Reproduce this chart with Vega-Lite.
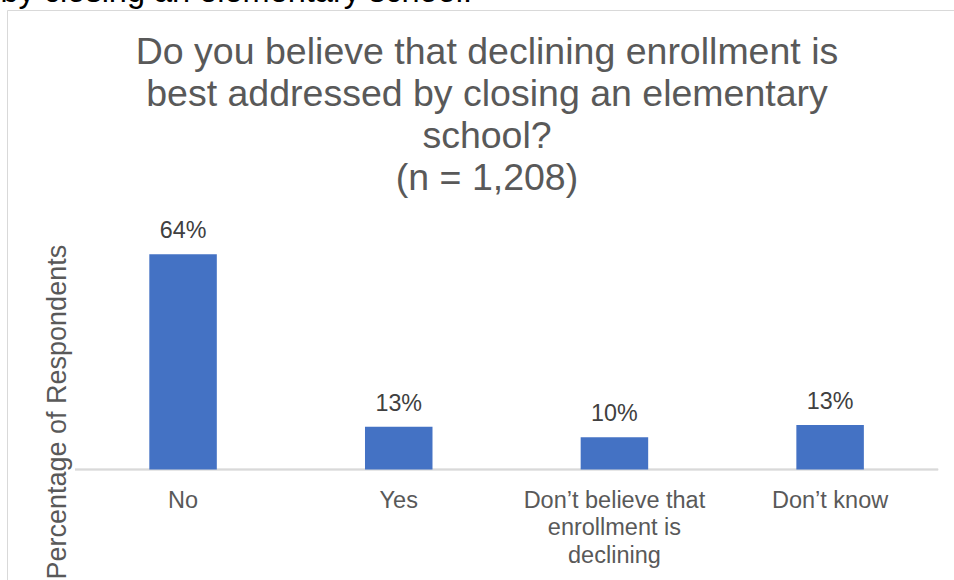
{
  "$schema": "https://vega.github.io/schema/vega-lite/v6.json",
  "autosize": {"type": "none"},
  "padding": {"left": 7, "top": 10, "right": 0, "bottom": 0},
  "background": "white",
  "width": 960,
  "height": 590,
  "config": {
    "font": "Liberation Sans",
    "view": {"stroke": "#d9d9d9", "strokeWidth": 1}
  },
  "title": {
    "text": ["Do you believe that declining enrollment is", "best addressed by closing an elementary", "school?", "(n = 1,208)"],
    "anchor": "middle",
    "frame": "group",
    "fontSize": 37.5,
    "lineHeight": 42,
    "font": "Liberation Sans",
    "fontWeight": "normal",
    "color": "#595959",
    "baseline": "alphabetic",
    "offset": -252
  },
  "data": {
    "values": [
      {"response": "No", "pct": 0.64},
      {"response": "Yes", "pct": 0.127},
      {"response": "Don’t believe that enrollment is declining", "pct": 0.096},
      {"response": "Don’t know", "pct": 0.132}
    ]
  },
  "resolve": {"axis": {"x": "independent"}},
  "layer": [
    {
      "mark": {"type": "rule", "color": "#d9d9d9", "strokeWidth": 1.5},
      "encoding": {
        "x": {"datum": "No", "bandPosition": -1.1, "type": "nominal", "axis": null},
        "x2": {"datum": "Don’t know", "bandPosition": 2.1},
        "y": {"datum": 0, "type": "quantitative"}
      }
    },
    {
      "mark": {"type": "bar", "color": "#4472C4"},
      "encoding": {
        "x": {
          "field": "response",
          "type": "nominal",
          "sort": null,
          "scale": {
            "domain": ["No", "Yes", "Don’t believe that enrollment is declining", "Don’t know"],
            "paddingInner": 0.687, "paddingOuter": 0.569, "align": 0.5798
          },
          "axis": {
            "orient": "bottom",
            "offset": -130.5,
            "domain": false,
            "ticks": false,
            "grid": false,
            "title": null,
            "labelAngle": 0,
            "labelFontSize": 23.5,
            "labelColor": "#595959",
            "labelBaseline": "alphabetic",
            "labelPadding": 37.5,
            "labelLineHeight": 27.5,
            "labelLimit": 400,
            "labelExpr": "datum.label == 'Don’t believe that enrollment is declining' ? ['Don’t believe that', 'enrollment is', 'declining'] : datum.label"
          }
        },
        "y": {
          "field": "pct",
          "type": "quantitative",
          "scale": {"domain": [-0.3881, 1.3666], "nice": false, "zero": false},
          "axis": {
            "orient": "left",
            "labels": false,
            "ticks": false,
            "domain": false,
            "grid": false,
            "title": "Percentage of Respondents",
            "titleFontSize": 27,
            "titleFontWeight": "normal",
            "titleColor": "#595959",
            "titleBaseline": "alphabetic",
            "titleAlign": "center",
            "titleAngle": -90,
            "titleX": 58.5,
            "titleY": 401.7
          }
        },
        "y2": {"datum": 0}
      }
    },
    {
      "mark": {"type": "text", "baseline": "alphabetic", "dy": -16, "fontSize": 23.3, "color": "#404040"},
      "encoding": {
        "x": {
          "field": "response",
          "type": "nominal",
          "sort": null,
          "axis": {
            "orient": "top",
            "domain": false,
            "ticks": false,
            "labels": false,
            "grid": false,
            "title": "by closing an elementary school.",
            "titleFontSize": 32.5,
            "titleFontWeight": "normal",
            "titleColor": "#000000",
            "titleAlign": "left",
            "titleAnchor": "start",
            "titleBaseline": "alphabetic",
            "titleAngle": 0,
            "titleX": -7,
            "titleY": -9
          }
        },
        "y": {"field": "pct", "type": "quantitative"},
        "text": {"field": "pct", "type": "quantitative", "format": ".0%"}
      }
    }
  ]
}
